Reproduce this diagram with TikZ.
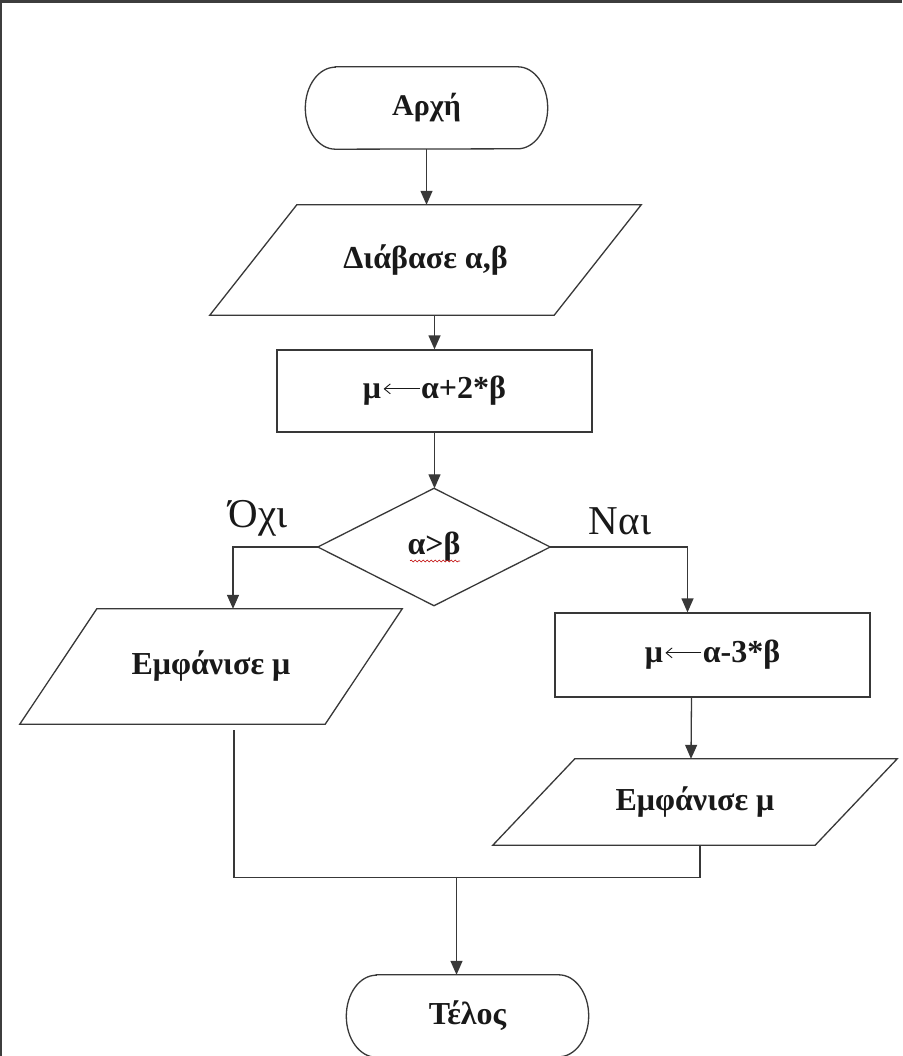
\documentclass[tikz,border=0pt]{standalone}
\usepackage{fontspec}
\setmainfont{Liberation Serif}
\usetikzlibrary{arrows.meta,calc,decorations.pathmorphing}
% thin assignment arrow set inline with the text, on the math axis
\newcommand{\assign}{\hspace{2pt}\tikz[baseline=0pt]\draw[black!90, line width=0.9pt,
  -{Straight Barb[length=6pt,width=10pt]}] (36pt,10pt) -- (0pt,10pt);\hspace{1pt}}
\begin{document}
\begin{tikzpicture}[x=1pt,y=-1pt,
  line/.style={draw=black!78, line width=1.3pt},
  arr/.style={line, -{Triangle[width=12pt,length=14pt]}},
  boxtext/.style={inner sep=0pt, text=black!90, font=\fontsize{32}{32}\selectfont\bfseries},
  term/.style={boxtext, minimum width=242pt, minimum height=82pt},
  iobox/.style={boxtext},
  proc/.style={boxtext, line, minimum width=315pt},
  lab/.style={inner sep=0pt, text=black!90, font=\fontsize{41}{41}\selectfont}
]
% page and frame
\path[use as bounding box] (0,0) rectangle (902,1056);
\fill[white] (0,0) rectangle (902,1056);
\fill[black!76] (0,0) rectangle (902,3.5);
\fill[black!76] (0,0) rectangle (1.5,1056);

% nodes
\node[term, font=\fontsize{30}{30}\selectfont\bfseries] (start) at (426.5,108) {Αρχή};
\node[iobox, minimum width=431pt, minimum height=110pt] (p1) at (425.5,260) {Διάβασε α,β};
\node[proc, minimum height=82pt] (r1) at (434.5,391) {μ\assign α+2*β};
\node[boxtext, minimum width=232pt, minimum height=117pt] (d) at (434,547) {α>β};
\node[iobox, minimum width=382pt, minimum height=115pt] (p2) at (211,666.5) {Εμφάνισε μ};
\node[proc, minimum height=84pt] (r2) at (712.5,655) {μ\assign α-3*β};
\node[iobox, minimum width=404pt, minimum height=86pt] (p3) at (695,802) {Εμφάνισε μ};
\node[term] (end) at (467.5,1016) {Τέλος};
\node[lab] (no) at (258,518) {Όχι};
\node[lab] (yes) at (620,521) {Ναι};

% terminal outlines with oval ends
\foreach \n in {start,end}
  \draw[line] ($(\n.north west)+(30,0)$) -- ($(\n.north east)+(-30,0)$)
    arc[start angle=-90, end angle=90, x radius=30, y radius=41]
    -- ($(\n.south west)+(30,0)$)
    arc[start angle=90, end angle=270, x radius=30, y radius=41] -- cycle;

% input/output parallelograms
\foreach \n/\s in {p1/87, p2/77, p3/82}
  \draw[line] ($(\n.north west)+(\s,0)$) -- (\n.north east)
    -- ($(\n.south east)+(-\s,0)$) -- (\n.south west) -- cycle;

% decision diamond
\draw[line] (d.north) -- (d.east) -- (d.south) -- (d.west) -- cycle;
\draw[red!75!black, line width=0.6pt, decorate,
  decoration={snake, amplitude=1pt, segment length=4pt}]
  ($(d.center)+(-24,14)$) -- ++(50,0);

% connectors
\draw[arr] (start.south) -- (start.south |- p1.north);
\draw[arr] (p1.south -| r1.north) -- (r1.north);
\draw[arr] (r1.south) -- (r1.south |- d.north);
\draw[arr] (d.west) -| ($(p2.north)+(22,0)$);
\draw[arr] (d.east) -| ($(r2.north)+(-25,0)$);
\draw[arr] ($(r2.south)+(-21,0)$) -- ($(p3.north)+(-4,0)$);
\coordinate (m) at ($(end.north)+(-11,-98)$);
\draw[line] ($(p2.south)+(23,6)$) |- ($(p3.south)+(5,32)$) -- ($(p3.south)+(5,0)$);
\draw[arr] (m) -- (m |- end.north);
\end{tikzpicture}
\end{document}
